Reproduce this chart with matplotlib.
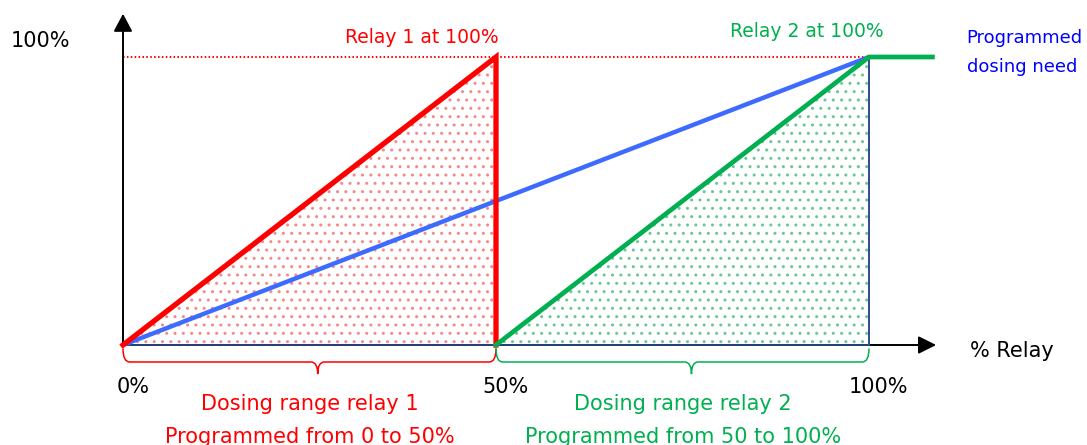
import matplotlib
matplotlib.use('Agg')
import matplotlib.pyplot as plt
from matplotlib.path import Path
from matplotlib.patches import PathPatch, Rectangle

# --- data (percent of relay range / percent of output) ---
need_x = [0, 100]
need_y = [0, 100]
relay1_x = [0, 50, 50]
relay1_y = [0, 100, 0]
relay2_x = [50, 100, 108.5]
relay2_y = [0, 100, 100]
tick_pos = [0, 50, 100]
tick_labels = ['0%', '50%', '100%']
range1 = (0, 50)
range2 = (50, 100)

RED = '#ff0000'
GREEN = '#00b050'
BLUE = '#3d6bff'
NAVY = '#2f4d8c'

plt.rcParams['hatch.linewidth'] = 1.0

# pixel layout of the original drawing: 0% at x=123px, 100% at x=869px; 0 at y=345px, 100% at y=57px
PX_X = 7.46
PX_Y = 2.88

fig = plt.figure(figsize=(10.87, 4.45), dpi=100)
ax = fig.add_axes([0, 0, 1, 1])
ax.set_xlim(-123 / PX_X, (1087 - 123) / PX_X)
ax.set_ylim(-(445 - 345) / PX_Y, 345 / PX_Y)
ax.axis('off')

# dotted fills
ax.fill(relay1_x, relay1_y, facecolor='white', edgecolor='#f48a8a', linewidth=0, hatch='..', zorder=1)
ax.fill([relay2_x[0], relay2_x[1], relay2_x[1]], [relay2_y[0], relay2_y[1], 0],
        facecolor='white', edgecolor='#6cc696', linewidth=0, hatch='..', zorder=1)

# 100% reference line
ax.plot([0, 100], [100, 100], color=RED, lw=1.4, ls=(0, (0.8, 1.2)), zorder=2)

# axes with arrows
ax.annotate('', xy=(109, 0), xytext=(0, 0),
            arrowprops=dict(arrowstyle='-|>,head_length=0.6,head_width=0.3', mutation_scale=18,
                            color='black', lw=1.4, shrinkA=0, shrinkB=0), zorder=3)
ax.annotate('', xy=(0, 115), xytext=(0, 0),
            arrowprops=dict(arrowstyle='-|>,head_length=0.6,head_width=0.32', mutation_scale=18,
                            color='black', lw=1.4, shrinkA=0, shrinkB=0), zorder=3)
ax.plot([0, 100], [0, 0], color=NAVY, lw=1.2, zorder=3)
ax.plot([100, 100], [0, 100], color=NAVY, lw=1.4, zorder=3)

# curves
ax.plot(need_x, need_y, color=BLUE, lw=3.2, solid_capstyle='butt', zorder=4)
ax.plot(relay1_x, relay1_y, color=RED, lw=3.8, solid_joinstyle='miter', zorder=5)
ax.plot(relay2_x, relay2_y, color=GREEN, lw=3.4, solid_joinstyle='miter', zorder=6)


def brace(x0, x1, xtip, color):
    ytop, ymid, ybot = -1.2, -5.9, -10.1
    r = 0.9
    verts = [(x0, ytop), (x0, ymid), (x0 + r, ymid),
             (xtip - r, ymid),
             (xtip, ymid), (xtip, ybot),
             (xtip, ymid), (xtip + r, ymid),
             (x1 - r, ymid),
             (x1, ymid), (x1, ytop)]
    codes = [Path.MOVETO, Path.CURVE3, Path.CURVE3,
             Path.LINETO,
             Path.CURVE3, Path.CURVE3,
             Path.CURVE3, Path.CURVE3,
             Path.LINETO,
             Path.CURVE3, Path.CURVE3]
    ax.add_patch(PathPatch(Path(verts, codes), fill=False, edgecolor=color, lw=1.1, zorder=3))


brace(range1[0], range1[1], 26.1, RED)
brace(range2[0], range2[1], 76.2, GREEN)

# tick labels under the axis
for p, lab in zip(tick_pos, tick_labels):
    ax.text(p + 1.3, -16.7, lab, ha='center', va='baseline', fontsize=15, color='black')

ax.text(-7.1, 105.4, '100%', ha='right', va='center', fontsize=15, color='black')
ax.text(113.5, -4.2, '% Relay', ha='left', va='baseline', fontsize=15, color='black')

# labels at the top, clipped a little at the bottom like the original
t1 = ax.text(40.1, 104.9, 'Relay 1 at 100%', ha='center', va='baseline', fontsize=13.5, color=RED)
t1.set_clip_path(Rectangle((20, 104.2), 40, 20, transform=ax.transData))
t2 = ax.text(91.6, 106.9, 'Relay 2 at 100%', ha='center', va='baseline', fontsize=13.5, color=GREEN)
t2.set_clip_path(Rectangle((70, 106.2), 40, 20, transform=ax.transData))
ax.text(113.1, 104.9, 'Programmed', ha='left', va='baseline', fontsize=13, color='#0000ff')
ax.text(113.2, 94.8, 'dosing need', ha='left', va='baseline', fontsize=13, color='#0000ff')

# range descriptions
ax.text(25.1, -22.6, 'Dosing range relay 1', ha='center', va='baseline', fontsize=15, color=RED)
ax.text(25.1, -34.0, 'Programmed from 0 to 50%', ha='center', va='baseline', fontsize=15, color=RED)
ax.text(75.1, -22.6, 'Dosing range relay 2', ha='center', va='baseline', fontsize=15, color=GREEN)
ax.text(75.1, -34.0, 'Programmed from 50 to 100%', ha='center', va='baseline', fontsize=15, color=GREEN)

fig.savefig('out.png', dpi=100)
